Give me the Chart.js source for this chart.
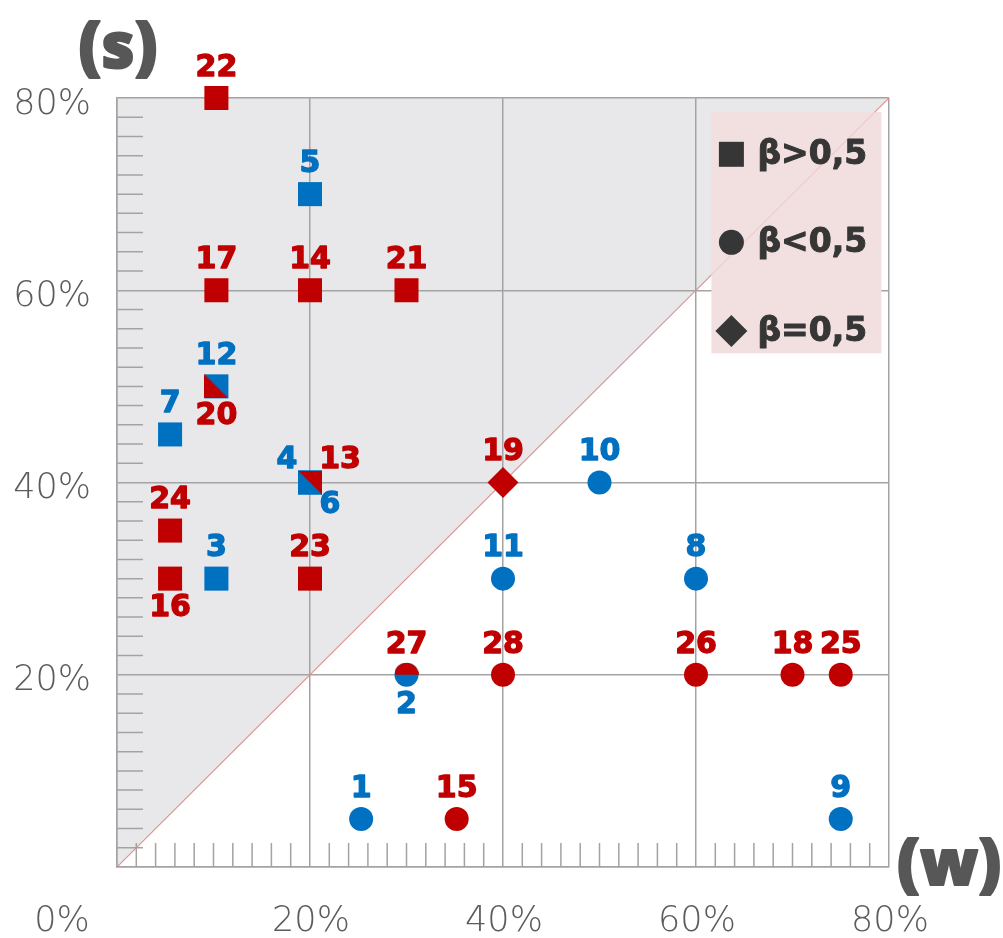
<!DOCTYPE html>
<html>
<head>
<meta charset="utf-8">
<script src="https://cdn.jsdelivr.net/npm/chart.js@4/dist/chart.umd.min.js"></script>
<style>
  html, body { margin: 0; padding: 0; background: #ffffff; }
  canvas { display: block; }
</style>
</head>
<body>
<canvas id="chart" width="1003" height="938"></canvas>
<script>
// Blue cases (1–12): weight w and share s, in percent
const blueIds  = [1, 2, 3, 4, 5, 6, 7, 8, 9, 10, 11, 12];
const blueW    = [25.3, 30, 10.3, 20, 20, 20, 5.5, 60, 75, 50, 40, 10.3];
const blueS    = [5, 20, 30, 40, 70, 40, 45, 30, 5, 40, 30, 50];
const blueBeta = ['lt', 'lt', 'gt', 'gt', 'gt', 'gt', 'gt', 'lt', 'lt', 'lt', 'lt', 'gt'];

// Red cases (13–28)
const redIds  = [13, 14, 15, 16, 17, 18, 19, 20, 21, 22, 23, 24, 25, 26, 27, 28];
const redW    = [20, 20, 35.2, 5.5, 10.3, 70, 40, 10.3, 30, 10.3, 20, 5.5, 75, 60, 30, 40];
const redS    = [40, 60, 5, 30, 60, 20, 40, 50, 60, 80, 30, 35, 20, 20, 20, 20];
const redBeta = ['gt', 'gt', 'lt', 'gt', 'gt', 'lt', 'eq', 'gt', 'gt', 'gt', 'gt', 'gt', 'lt', 'lt', 'lt', 'lt'];

// Axis labels and legend entries
const axisTicks    = [0, 20, 40, 60, 80];
const legendBetas  = ['gt', 'lt', 'eq'];
const legendLabels = ['β>0,5', 'β<0,5', 'β=0,5'];

// ---- styling ----
const RED = '#c00000';
const BLUE = '#0070c0';
const GRID = '#a3a3a3';
const SHAPE = { gt: 'rect', lt: 'circle', eq: 'rectRot' };
const RADIUS = { gt: 17, lt: 12, eq: 15.5 };

// Marks that share a position with another case are drawn as a partial shape
const partialMarks = { 13: 'upperRight', 20: 'lowerLeft', 27: 'upperHalf' };
// Where each number sits relative to its mark (default: above)
const labelSpot = { 2: 'below', 4: 'upLeft', 6: 'downRight', 13: 'upRight', 16: 'below', 20: 'below' };
const SPOT = { above: [0, -30], below: [0, 30], upLeft: [-23, -22], upRight: [30, -22], downRight: [20, 23] };

function partialImage(kind, color) {
  const n = 24;
  const c = document.createElement('canvas');
  c.width = n; c.height = n;
  const g = c.getContext('2d');
  g.fillStyle = color;
  g.beginPath();
  if (kind === 'upperRight') { g.moveTo(0, 0); g.lineTo(n, 0); g.lineTo(n, n); }
  else if (kind === 'lowerLeft') { g.moveTo(0, 0); g.lineTo(0, n); g.lineTo(n, n); }
  else { g.arc(n / 2, n / 2, n / 2, Math.PI, 2 * Math.PI); }
  g.closePath();
  g.fill();
  return c;
}

function makeSeries(ids, w, s, beta, color, order) {
  return {
    label: color === RED ? 'red' : 'blue',
    ids: ids,
    labelColor: color,
    data: ids.map((id, i) => ({ x: w[i], y: s[i] })),
    pointStyle: ids.map((id, i) => partialMarks[id] ? partialImage(partialMarks[id], color) : SHAPE[beta[i]]),
    pointRadius: ids.map((id, i) => RADIUS[beta[i]]),
    pointHoverRadius: ids.map((id, i) => RADIUS[beta[i]]),
    backgroundColor: color,
    borderColor: color,
    borderWidth: 0,
    pointBorderWidth: 0,
    showLine: false,
    clip: false,
    order: order
  };
}

// Minor ruler ticks every 2 % along the bottom and left edges
const rulerTicks = {
  id: 'rulerTicks',
  beforeDatasetsDraw(chart) {
    const { ctx, chartArea: a, scales: { x, y } } = chart;
    ctx.save();
    ctx.strokeStyle = GRID;
    ctx.lineWidth = 1.5;
    ctx.beginPath();
    x.ticks.forEach(t => {
      if (t.value % 20 === 0) return;
      const px = x.getPixelForValue(t.value);
      ctx.moveTo(px, a.bottom);
      ctx.lineTo(px, a.bottom - 24);
    });
    y.ticks.forEach(t => {
      if (t.value % 20 === 0) return;
      const py = y.getPixelForValue(t.value);
      ctx.moveTo(a.left, py);
      ctx.lineTo(a.left + 26, py);
    });
    ctx.stroke();
    ctx.restore();
  }
};

// Legend panel in the upper-right corner of the plot
const legendPanel = {
  id: 'legendPanel',
  afterDatasetsDraw(chart) {
    const { ctx, chartArea: a, scales: { x, y } } = chart;
    const L = a.right - 177.6, R = a.right - 7.6, T = a.top + 14, B = a.top + 255.3;
    ctx.save();
    ctx.fillStyle = '#f2e0e0';
    ctx.fillRect(L, T, R - L, B - T);
    // faint continuation of the diagonal across the panel
    ctx.beginPath();
    ctx.rect(L, T, R - L, B - T);
    ctx.clip();
    ctx.strokeStyle = 'rgba(230,170,170,0.55)';
    ctx.lineWidth = 1;
    ctx.beginPath();
    ctx.moveTo(x.getPixelForValue(0), y.getPixelForValue(0));
    ctx.lineTo(x.getPixelForValue(80), y.getPixelForValue(80));
    ctx.stroke();
    ctx.restore();

    ctx.save();
    const dark = '#363636';
    ctx.fillStyle = dark;
    ctx.strokeStyle = dark;
    ctx.lineWidth = 1;
    ctx.lineJoin = 'round';
    ctx.font = 'bold 33px "DejaVu Sans"';
    ctx.textAlign = 'left';
    ctx.textBaseline = 'middle';
    const rows = [42.3, 130.3, 219];
    legendBetas.forEach((b, i) => {
      const cx = L + 20, cy = T + rows[i];
      ctx.beginPath();
      if (b === 'gt') ctx.rect(cx - 12.5, cy - 12.5, 25, 25);
      else if (b === 'lt') ctx.arc(cx, cy, 12.5, 0, Math.PI * 2);
      else { ctx.moveTo(cx, cy - 16); ctx.lineTo(cx + 16, cy); ctx.lineTo(cx, cy + 16); ctx.lineTo(cx - 16, cy); ctx.closePath(); }
      ctx.fill();
      ctx.fillText(legendLabels[i], L + 46, cy + 1);
      ctx.strokeText(legendLabels[i], L + 46, cy + 1);
    });
    ctx.restore();
  }
};

// Case numbers next to each mark
const caseNumbers = {
  id: 'caseNumbers',
  afterDatasetsDraw(chart) {
    const ctx = chart.ctx;
    ctx.save();
    ctx.font = 'bold 30px "DejaVu Sans"';
    ctx.textAlign = 'center';
    ctx.textBaseline = 'middle';
    ctx.lineWidth = 1.3;
    ctx.lineJoin = 'round';
    chart.data.datasets.forEach((ds, di) => {
      if (!ds.ids) return;
      const meta = chart.getDatasetMeta(di);
      meta.data.forEach((pt, i) => {
        const id = ds.ids[i];
        const off = SPOT[labelSpot[id] || 'above'];
        ctx.fillStyle = ds.labelColor;
        ctx.strokeStyle = ds.labelColor;
        ctx.fillText(String(id), pt.x + off[0], pt.y + off[1]);
        ctx.strokeText(String(id), pt.x + off[0], pt.y + off[1]);
      });
    });
    ctx.restore();
  }
};

// Percent labels and axis letters
const axisText = {
  id: 'axisText',
  afterDraw(chart) {
    const { ctx, chartArea: a, scales: { x, y } } = chart;
    ctx.save();
    ctx.fillStyle = '#5c5c5c';
    ctx.font = '200 35px "DejaVu Sans"';
    ctx.textBaseline = 'alphabetic';
    ctx.textAlign = 'right';
    axisTicks.forEach(v => {
      if (v === 0) return;
      ctx.fillText(v + '%', a.left - 26, y.getPixelForValue(v) + 15.5);
    });
    ctx.textAlign = 'center';
    axisTicks.forEach(v => {
      const shift = v === 0 ? -55 : 1;
      ctx.fillText(v + '%', x.getPixelForValue(v) + shift, a.bottom + 63.5);
    });
    ctx.fillStyle = '#575757';
    ctx.strokeStyle = '#575757';
    ctx.lineWidth = 2;
    ctx.lineJoin = 'round';
    ctx.font = '800 64px "Open Sans"';
    ctx.textAlign = 'center';
    ctx.fillText('(s)', a.left + 1, a.top - 30);
    ctx.strokeText('(s)', a.left + 1, a.top - 30);
    ctx.fillText('(w)', a.right + 60, a.bottom + 18);
    ctx.strokeText('(w)', a.right + 60, a.bottom + 18);
    ctx.restore();
  }
};

const gridColor = c => (c.tick && c.tick.value % 20 === 0 ? GRID : 'rgba(0,0,0,0)');

new Chart(document.getElementById('chart'), {
  type: 'scatter',
  data: {
    datasets: [
      makeSeries(redIds, redW, redS, redBeta, RED, 0),
      makeSeries(blueIds, blueW, blueS, blueBeta, BLUE, 1),
      {
        // diagonal s = w; the area above it is shaded
        type: 'line',
        label: 'diagonal',
        data: [{ x: 0, y: 0 }, { x: 80, y: 80 }],
        borderColor: 'rgba(222,140,140,0.95)',
        borderWidth: 1.2,
        pointRadius: 0,
        fill: 'end',
        backgroundColor: '#e8e8eb',
        order: 2
      }
    ]
  },
  options: {
    responsive: false,
    animation: false,
    events: [],
    layout: { padding: { left: 117, right: 114, top: 98, bottom: 71 } },
    scales: {
      x: {
        type: 'linear', min: 0, max: 80,
        ticks: { stepSize: 2, display: false },
        grid: { color: gridColor, lineWidth: 1.5, drawTicks: false },
        border: { display: true, color: GRID, width: 1.5 }
      },
      y: {
        type: 'linear', min: 0, max: 80,
        ticks: { stepSize: 2, display: false },
        grid: { color: gridColor, lineWidth: 1.5, drawTicks: false },
        border: { display: true, color: GRID, width: 1.5 }
      }
    },
    plugins: {
      legend: { display: false },
      tooltip: { enabled: false },
      filler: { drawTime: 'beforeDraw' }
    }
  },
  plugins: [rulerTicks, legendPanel, caseNumbers, axisText]
});
</script>
</body>
</html>
